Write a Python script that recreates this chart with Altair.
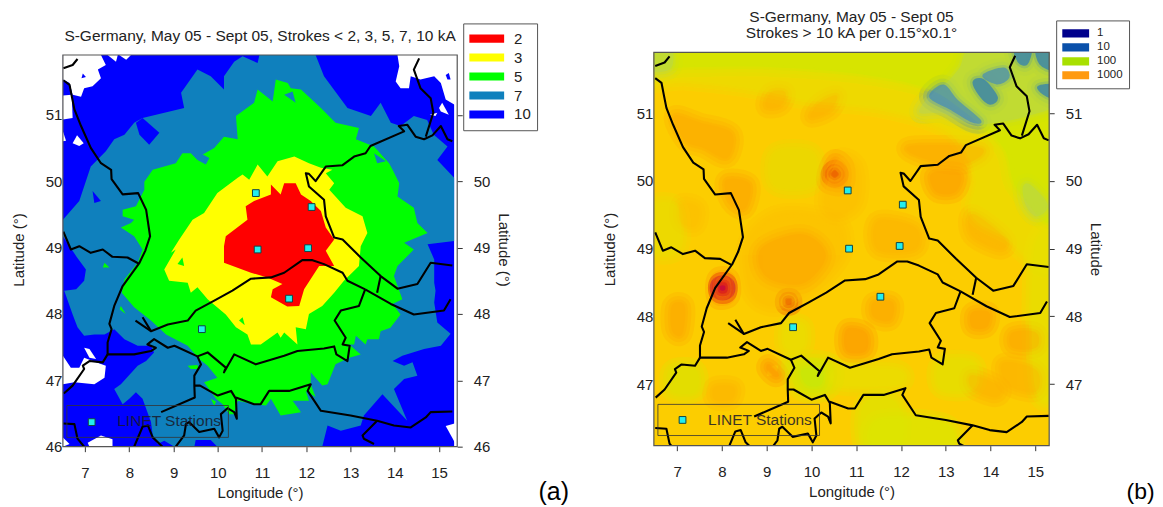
import altair as alt
import pandas as pd

FONT = "Liberation Sans"
INK = "#222222"

# ---------- categories ----------
levels_a = ["2", "3", "5", "7", "10"]
colors_a = ["#ff0000", "#ffff00", "#00ff00", "#0f80bd", "#0000ff"]
levels_b = ["1", "10", "100", "1000"]
colors_b = ["#00008c", "#0a50aa", "#a8e000", "#ff9a10"]

lat_ticks = [46, 47, 48, 49, 50, 51]
lat_ticks_b = [47, 48, 49, 50, 51]
lon_ticks = [7, 8, 9, 10, 11, 12, 13, 14, 15]

# ---------- stations ----------
stations_a = [(10.86, 49.82), (10.90, 48.97), (12.12, 49.61), (12.04, 48.99), (11.61, 48.23), (9.64, 47.77), (7.15, 46.37)]
stations_b = [(10.81, 49.86), (10.84, 49.00), (12.04, 49.65), (11.97, 49.04), (11.54, 48.29), (9.59, 47.84), (7.12, 46.47)]

# ---------- national borders (lon, lat) ----------
borders = [
    [(6.51, 51.70), (6.72, 51.75), (6.83, 51.84)],
    [(6.51, 51.52), (6.65, 51.45), (6.70, 51.28), (6.76, 51.08), (6.91, 50.83), (7.13, 50.50), (7.36, 50.27), (7.59, 50.17), (7.60, 50.03), (7.85, 49.80), (8.20, 49.82), (8.38, 49.57), (8.47, 49.17), (8.36, 48.95), (8.23, 48.77), (7.85, 48.42), (7.66, 48.12), (7.55, 47.85), (7.60, 47.77), (7.51, 47.57), (7.51, 47.39),
     (8.11, 47.39), (8.49, 47.44), (8.60, 47.49), (8.41, 47.54), (8.56, 47.62), (8.87, 47.49), (9.02, 47.52), (9.54, 47.36), (9.77, 47.42), (10.18, 47.19), (10.14, 47.12), (10.37, 47.39), (10.86, 47.24), (11.50, 47.37), (11.80, 47.44), (12.40, 47.48), (12.63, 47.51), (12.68, 47.39), (12.93, 47.29), (12.98, 47.52), (12.82, 47.54), (12.89, 47.64), (12.64, 47.90), (12.78, 48.05), (13.19, 48.12), (13.33, 48.37)],
    [(13.33, 48.37), (12.93, 48.50), (12.82, 48.62), (12.40, 48.75), (12.14, 48.81), (11.91, 48.81), (11.50, 48.62), (11.20, 48.55), (10.75, 48.53), (10.33, 48.35), (9.92, 48.20), (9.50, 48.05), (9.32, 47.90), (8.87, 47.84), (8.49, 47.74), (8.30, 47.95)],
    [(8.14, 47.90), (8.49, 47.74)],
    [(13.33, 48.37), (13.91, 48.15), (14.43, 47.99), (15.11, 48.05), (15.26, 48.22)],
    [(15.30, 48.73), (14.81, 48.77), (14.51, 48.45), (14.06, 48.38), (13.68, 48.57), (13.23, 48.85), (12.82, 49.12), (12.63, 49.15), (12.44, 49.47), (12.40, 49.72), (12.06, 49.92), (11.99, 50.12), (12.06, 50.11), (12.21, 50.00), (12.44, 50.22), (12.82, 50.24), (13.08, 50.37), (13.34, 50.42), (13.45, 50.53), (14.21, 50.75), (14.09, 50.83), (14.28, 50.85), (14.47, 50.67), (14.66, 50.63), (14.85, 50.69), (15.04, 50.83), (15.19, 50.63), (15.30, 50.60)],
    [(13.68, 48.57), (13.60, 48.32)],
    [(14.55, 51.85), (14.43, 51.68), (14.58, 51.40), (14.81, 51.25), (14.87, 51.03), (14.70, 50.67)],
    [(6.51, 49.24), (6.68, 48.97), (6.87, 49.02), (7.13, 48.92), (7.40, 48.97), (7.62, 48.86), (7.96, 48.85), (8.21, 48.76)],
    [(7.51, 47.39), (7.40, 47.27), (7.10, 47.29), (6.95, 47.22), (6.98, 47.17), (6.72, 46.92), (6.52, 46.80)],
    [(9.54, 47.36), (9.62, 47.24), (9.47, 47.07), (9.47, 46.92), (9.48, 46.74), (8.72, 46.52)],
    [(9.47, 46.92), (9.60, 46.92), (10.00, 46.77), (10.30, 46.84), (10.41, 46.72), (10.43, 46.42), (10.37, 46.52), (10.22, 46.58), (10.07, 46.49), (10.11, 46.24), (10.03, 46.14), (9.92, 46.27), (9.58, 46.22), (9.35, 46.37), (9.28, 46.34), (9.24, 46.17), (9.05, 46.00)],
    [(10.41, 46.74), (10.82, 46.64), (10.97, 46.64), (11.16, 46.84), (11.61, 46.84), (12.10, 46.94), (12.03, 46.84), (12.33, 46.54), (13.00, 46.47), (13.60, 46.39), (13.98, 46.32), (14.36, 46.29), (14.70, 46.44), (14.81, 46.52), (15.30, 46.53)],
    [(13.60, 46.39), (13.27, 46.17), (13.30, 46.12), (13.53, 46.04)],
    [(8.11, 46.00), (8.30, 46.30), (8.42, 46.32), (8.53, 46.14), (8.75, 46.00)],
    [(6.51, 46.35), (6.76, 46.34), (6.83, 46.12), (6.98, 46.00)],
]

# ---------- panel (a): areas without strokes ----------
white_areas = [
    [(6.50, 51.90), (7.36, 51.90), (7.47, 51.75), (7.29, 51.68), (7.36, 51.55), (7.17, 51.43), (6.98, 51.40), (6.91, 51.27), (6.72, 51.30), (6.65, 51.48), (6.50, 51.53)],
    [(6.50, 51.29), (6.70, 51.30), (6.72, 50.95), (6.50, 50.93)],
    [(6.50, 50.75), (6.57, 50.61), (6.50, 50.60)],
    [(6.72, 50.57), (6.82, 50.69), (6.97, 50.57), (6.87, 50.53)],
    [(7.51, 51.90), (7.70, 51.80), (7.74, 51.90)],
    [(7.77, 51.90), (7.93, 51.83), (8.04, 51.90)],
    [(14.06, 51.90), (15.41, 51.90), (15.41, 51.13), (15.15, 51.23), (15.04, 51.48), (14.89, 51.58), (14.58, 51.53), (14.36, 51.58), (14.32, 51.40), (14.13, 51.40), (14.02, 51.50), (14.10, 51.73)],
    [(15.00, 51.10), (15.07, 51.18), (15.22, 51.00), (15.04, 51.05)],
    [(14.79, 51.00), (14.96, 51.03), (14.92, 50.98)],
    [(6.50, 47.37), (6.68, 47.19), (6.87, 47.19), (6.98, 47.34), (7.25, 47.27), (7.47, 47.22), (7.44, 47.04), (7.21, 46.94), (6.76, 46.97), (6.50, 46.94)],
    [(6.98, 47.49), (7.10, 47.47), (7.25, 47.32), (7.10, 47.34)],
    [(7.06, 46.06), (7.36, 46.17), (7.62, 46.11), (7.62, 46.00), (7.10, 46.00)],
    [(6.50, 46.14), (6.65, 46.04), (6.50, 46.00)],
    [(15.41, 46.00), (15.15, 46.31), (15.41, 46.36)],
]
area_7 = [(6.50, 49.42), (6.87, 49.70), (7.13, 50.22), (7.47, 50.45), (7.66, 50.63), (7.89, 50.70), (8.11, 50.88), (8.30, 50.95), (9.24, 51.10), (9.17, 51.33), (9.54, 51.68), (9.84, 51.58), (10.14, 51.38), (10.14, 51.58), (10.37, 51.80), (10.56, 51.88), (10.90, 51.78), (10.94, 51.90), (12.21, 51.90), (12.40, 51.58), (12.93, 51.10), (13.46, 50.98), (13.68, 51.18), (13.91, 50.88), (14.13, 50.83), (14.43, 50.98), (14.73, 50.92), (14.88, 50.70), (15.19, 50.52), (14.96, 50.32), (15.34, 50.05), (15.34, 49.10), (14.74, 49.05), (14.89, 48.82), (14.89, 48.47), (14.92, 48.35), (14.89, 48.17), (14.96, 47.87), (15.26, 47.70), (15.04, 47.52), (14.66, 47.47), (14.17, 47.37), (13.95, 47.29), (14.21, 47.22), (14.40, 47.27), (14.51, 47.07), (14.21, 47.02), (13.98, 46.87), (14.28, 46.39), (13.72, 46.79), (13.30, 46.47), (13.23, 46.32), (12.78, 46.24), (12.48, 46.32), (12.36, 46.00), (9.99, 46.00), (9.84, 46.10), (9.50, 46.10), (9.47, 46.00), (9.02, 46.00), (8.79, 46.09), (8.64, 46.04), (8.53, 46.17), (8.49, 46.37), (8.30, 46.72), (8.15, 46.82), (8.00, 46.72), (7.85, 46.64), (7.66, 46.87), (7.81, 46.94), (8.19, 47.22), (8.38, 47.29), (8.56, 47.42), (8.49, 47.52), (8.19, 47.52), (7.89, 47.62), (7.66, 47.77), (7.44, 47.69), (7.21, 47.69), (6.98, 47.67), (6.83, 47.80), (6.72, 47.99), (6.53, 48.35), (6.80, 48.37), (6.98, 48.50), (7.02, 48.67), (6.80, 48.87), (6.65, 49.02), (6.50, 49.17)]
islands_10 = [
    [(8.30, 50.95), (8.68, 50.73), (8.45, 50.55), (8.23, 50.70), (8.15, 50.88)],
    [(7.17, 49.85), (7.36, 49.70), (7.21, 49.67)],
    [(6.95, 51.62), (7.02, 51.57), (6.92, 51.55)],
    [(15.15, 51.60), (15.22, 51.63), (15.26, 51.53), (15.19, 51.53)],
]
area_5 = [(7.85, 49.57), (8.15, 49.62), (8.34, 49.87), (8.34, 49.99), (8.53, 50.17), (9.05, 50.27), (9.20, 50.42), (9.39, 50.42), (9.54, 50.32), (9.73, 50.25), (9.81, 50.35), (9.66, 50.40), (9.92, 50.50), (10.14, 50.67), (10.45, 50.63), (10.41, 50.98), (10.82, 51.18), (10.90, 51.38), (11.24, 51.20), (11.31, 51.53), (11.58, 51.48), (11.65, 51.40), (11.88, 51.38), (12.33, 51.10), (12.66, 50.88), (13.19, 50.80), (13.12, 50.63), (13.53, 50.52), (13.87, 50.27), (13.95, 50.17), (14.10, 49.97), (14.06, 49.77), (14.43, 49.60), (14.51, 49.37), (14.74, 49.22), (14.21, 49.07), (14.43, 48.97), (14.06, 48.72), (13.98, 48.57), (14.17, 48.22), (13.95, 48.15), (14.13, 47.99), (13.90, 47.79), (13.68, 47.74), (13.64, 47.62), (13.38, 47.62), (13.34, 47.54), (13.12, 47.67), (13.08, 47.54), (12.97, 47.54), (13.23, 47.39), (12.97, 47.34), (12.66, 47.24), (12.48, 46.94), (12.36, 46.92), (12.10, 47.12), (12.10, 46.94), (12.21, 46.75), (11.99, 46.84), (12.06, 46.69), (11.69, 46.69), (11.88, 46.52), (11.42, 46.47), (11.20, 46.72), (11.09, 46.62), (10.82, 46.64), (10.45, 46.69), (10.37, 46.49), (10.26, 46.49), (10.11, 46.64), (9.96, 46.72), (9.69, 46.97), (9.99, 47.04), (9.77, 47.22), (9.58, 47.32), (9.32, 47.52), (8.83, 47.69), (8.49, 47.90), (8.11, 48.10), (7.83, 48.32), (7.89, 48.52), (8.19, 48.77), (8.30, 48.97), (8.11, 49.17), (7.81, 49.30), (8.04, 49.37), (8.11, 49.42), (7.85, 49.47)]
islands_7 = [
    [(13.53, 50.42), (13.80, 50.30), (13.60, 50.27)],
    [(11.50, 51.30), (11.76, 51.18), (11.69, 51.35)],
]
islands_5 = [
    [(7.44, 48.77), (7.55, 48.70), (7.40, 48.70)],
    [(7.81, 48.12), (7.92, 48.00), (7.78, 48.07)],
    [(9.32, 47.22), (9.54, 47.23), (9.58, 47.17), (9.39, 47.17)],
    [(9.84, 46.72), (9.96, 46.68), (9.92, 46.62)],
]
area_3 = [(9.99, 49.82), (10.45, 50.05), (10.56, 50.10), (10.71, 50.02), (10.90, 50.25), (11.12, 50.07), (11.35, 50.30), (11.73, 50.37), (12.06, 50.27), (12.33, 50.20), (12.59, 50.17), (12.44, 50.12), (12.63, 49.97), (12.52, 49.87), (12.89, 49.60), (13.27, 49.47), (13.38, 49.22), (13.23, 49.02), (13.19, 48.72), (12.85, 48.50), (12.63, 48.32), (12.36, 48.12), (12.06, 48.00), (11.99, 47.77), (11.76, 47.80), (11.80, 47.54), (11.50, 47.72), (11.42, 47.64), (11.35, 47.72), (10.97, 47.54), (10.75, 47.54), (10.67, 47.69), (10.41, 47.80), (10.18, 47.99), (9.77, 48.22), (9.54, 48.40), (9.39, 48.32), (9.32, 48.47), (8.90, 48.50), (8.79, 48.67), (9.05, 48.97), (8.94, 48.92), (9.13, 49.12), (9.43, 49.42), (9.69, 49.52)]
islands_5b = [
    [(9.09, 48.75), (9.20, 48.85), (9.24, 48.72)],
    [(10.48, 47.90), (10.56, 47.95), (10.61, 47.83)],
]
area_2 = [(10.14, 49.02), (10.18, 49.17), (10.67, 49.42), (10.63, 49.62), (10.82, 49.70), (11.20, 49.80), (11.20, 49.95), (11.42, 49.80), (11.50, 49.97), (11.76, 49.97), (11.88, 49.80), (12.10, 49.70), (12.33, 49.55), (12.44, 49.30), (12.63, 49.12), (12.44, 48.95), (12.63, 48.72), (12.29, 48.72), (11.95, 48.37), (11.84, 48.12), (11.57, 48.11), (11.20, 48.25), (11.24, 48.37), (11.46, 48.45), (11.12, 48.55), (10.75, 48.62), (10.14, 48.77)]

contours_a = [("7", area_7)] + [("10", p) for p in islands_10] + [("5", area_5)] + [("7", p) for p in islands_7] + [("5", p) for p in islands_5] + [("3", area_3)] + [("5", p) for p in islands_5b] + [("2", area_2)]

# ---------- panel (b): smooth density areas, painted in this order ----------
blobs_b = [
    ("#ecdf00", [(6.3, 52.1), (15.5, 52.1), (15.5, 48.9), (14.3, 49.2), (13.6, 49.5), (13.7, 50.0), (13.5, 50.4), (13.0, 50.8), (11.5, 51.1), (10.0, 51.2), (8.5, 51.4), (7.2, 51.5), (6.3, 51.5)]),
    ("#c8ea00", [(6.3, 52.1), (15.5, 52.1), (15.5, 49.5), (14.6, 49.9), (14.3, 50.5), (13.3, 51.1), (12.5, 51.4), (11.0, 51.6), (9.0, 51.7), (7.5, 51.7), (6.3, 51.7)]),
    ("#a9cf72", [(12.43, 51.02), (12.65, 51.24), (13.03, 51.44), (13.32, 51.66), (13.70, 52.0), (15.5, 52.0), (15.5, 51.21), (14.81, 50.97), (13.77, 50.85), (13.32, 50.92), (12.88, 51.02)]),
    ("#a9d070", [(14.74, 49.90), (14.89, 49.93), (15.26, 49.64), (15.03, 49.49), (14.81, 49.64)]),
    ("#a9d070", [(6.4, 52.0), (6.83, 52.0), (6.85, 51.68), (6.4, 51.65)]),
    ("#2f7fd0", [(12.65, 51.24), (12.95, 51.41), (13.25, 51.19), (13.77, 50.89), (13.55, 50.89), (13.10, 51.07)]),
    ("#0f6ad2", [(13.62, 51.46), (13.84, 51.49), (14.14, 51.24), (13.99, 51.14), (13.77, 51.26)]),
    ("#2f7fd0", [(13.84, 51.56), (14.29, 51.66), (14.40, 51.53), (14.14, 51.44)]),
    ("#0f6ad2", [(14.55, 51.95), (14.89, 51.95), (14.81, 51.73), (14.63, 51.76)]),
    ("#0f6ad2", [(15.04, 51.95), (15.40, 51.95), (15.40, 51.66), (15.11, 51.73)]),
    ("#0f6ad2", [(15.07, 51.39), (15.40, 51.41), (15.40, 51.24), (15.18, 51.29)]),
    ("#dde400", [(9.5, 47.3), (10.4, 47.3), (10.4, 46.95), (9.8, 46.9)]),
    ("#bdeb10", [(9.8, 47.2), (10.2, 47.2), (10.2, 47.0), (9.9, 47.0)]),
    ("#dde400", [(6.9, 47.2), (7.4, 47.2), (7.4, 46.9), (6.9, 46.9)]),
    ("#e8e000", [(10.6, 47.2), (11.9, 47.2), (11.9, 47.0), (10.6, 47.0)]),
    ("#dbe600", [(11.5, 46.45), (13.0, 46.4), (13.0, 46.0), (11.5, 46.0)]),
    ("#e4e200", [(12.9, 47.3), (13.6, 47.3), (13.6, 46.95), (12.9, 46.95)]),
    ("#dde400", [(11.2, 46.7), (11.9, 46.7), (11.9, 46.1), (11.2, 46.1)]),
    ("#e8dc00", [(6.4, 49.6), (7.0, 49.6), (7.0, 49.0), (6.4, 49.0)]),
    ("#e8dc00", [(9.2, 50.4), (10.0, 50.4), (10.0, 49.95), (9.2, 49.95)]),
    ("#e4e000", [(15.0, 49.0), (15.5, 49.0), (15.5, 47.0), (15.0, 47.0)]),
    ("#e8e000", [(9.45, 47.85), (9.8, 47.85), (9.8, 47.55), (9.45, 47.55)]),
    ("#ffbe00", [(8.6, 48.5), (8.6, 49.1), (9.3, 49.5), (10.5, 49.4), (10.7, 49.0), (10.3, 48.6), (9.5, 48.2), (8.9, 48.2)]),
    ("#ffa000", [(9.0, 48.6), (8.9, 49.0), (9.8, 49.2), (10.3, 48.9), (9.8, 48.5)]),
    ("#ffbe00", [(10.3, 49.7), (10.6, 50.3), (11.0, 50.2), (11.0, 49.7), (10.6, 49.5)]),
    ("#ff8c00", [(10.35, 50.0), (10.5, 50.3), (10.72, 50.2), (10.7, 49.95)]),
    ("#e03000", [(10.45, 50.10), (10.52, 50.15), (10.59, 50.10), (10.52, 50.06)]),
    ("#ffa800", [(6.95, 50.95), (7.5, 50.85), (8.2, 50.7), (8.1, 50.35), (7.6, 50.5), (7.2, 50.6)]),
    ("#ffa400", [(8.1, 50.0), (8.6, 49.95), (8.5, 49.6), (8.2, 49.7)]),
    ("#ffbe00", [(7.1, 49.65), (7.45, 49.6), (7.4, 49.35), (7.1, 49.4)]),
    ("#ffb000", [(10.0, 50.95), (10.2, 51.15), (10.55, 51.25), (10.4, 51.05)]),
    ("#ffb000", [(9.0, 51.1), (9.1, 51.3), (9.4, 51.3), (9.3, 51.12)]),
    ("#ffa800", [(12.2, 50.5), (13.6, 50.5), (13.8, 50.4), (13.3, 50.25), (12.5, 50.35)]),
    ("#ff9c00", [(12.7, 50.1), (13.3, 50.1), (13.2, 49.85), (12.8, 49.85)]),
    ("#ffb000", [(11.5, 49.4), (12.3, 49.3), (12.3, 49.0), (11.5, 49.0)]),
    ("#ffb000", [(13.6, 49.5), (14.3, 49.15), (14.2, 49.0), (13.6, 49.2)]),
    ("#ff9400", [(10.8, 47.8), (11.2, 47.75), (11.2, 47.5), (10.8, 47.5)]),
    ("#ffa400", [(11.4, 48.2), (11.8, 48.2), (11.75, 47.95), (11.4, 48.0)]),
    ("#ffa400", [(6.9, 48.15), (7.15, 48.15), (7.1, 47.75), (6.9, 47.8)]),
    ("#ffb400", [(7.85, 46.95), (8.25, 46.95), (8.2, 46.78), (7.85, 46.78)]),
    ("#ff9c00", [(13.6, 48.05), (13.95, 48.05), (13.9, 47.85), (13.6, 47.85)]),
    ("#ffa400", [(14.5, 47.75), (15.0, 47.75), (15.0, 47.55), (14.5, 47.55)]),
    ("#ffb000", [(14.3, 47.3), (15.0, 47.2), (15.0, 46.9), (14.4, 47.0)]),
    ("#ffb000", [(13.6, 47.12), (14.2, 46.95), (14.1, 46.82), (13.6, 46.95)]),
    ("#ff8c00", [(7.9, 48.55), (8.15, 48.55), (8.16, 48.30), (7.9, 48.28)]),
    ("#e01010", [(7.95, 48.48), (8.09, 48.48), (8.09, 48.36), (7.95, 48.36)]),
    ("#c0004a", [(7.98, 48.44), (8.05, 48.44), (8.05, 48.40), (7.98, 48.40)]),
    ("#e84800", [(9.44, 48.25), (9.54, 48.25), (9.54, 48.18), (9.44, 48.18)]),
    ("#ff9000", [(9.05, 47.28), (9.25, 47.15), (9.18, 47.12), (9.02, 47.22)]),
]


def paint_strength(color):
    if color in ("#2f7fd0", "#0f6ad2"):
        return 0.55
    if color == "#c0004a":
        return 0.6
    if color == "#e01010":
        return 0.4
    if color in ("#e03000", "#e84800"):
        return 0.3
    if color.startswith("#ff"):
        return 0.24
    return 0.3


def polys_frame(items):
    rows = []
    for i, (level, pts) in enumerate(items):
        for j, (lon, lat) in enumerate(pts):
            rows.append({"id": i, "seq": j, "level": level, "lon": lon, "lat": lat,
                         "op": paint_strength(level)})
    return pd.DataFrame(rows)


def lines_frame(items):
    rows = []
    for i, pts in enumerate(items):
        for j, (lon, lat) in enumerate(pts):
            rows.append({"id": i, "seq": j, "lon": lon, "lat": lat})
    return pd.DataFrame(rows)


def panel(w, h, xdom, ydom, frame_y, title, tsize, toffset, levels, colors, legend,
          right_title, stations, box, label_pos, tag_pos, ticks_left):
    xs = alt.Scale(domain=xdom, nice=False, zero=False)
    ys = alt.Scale(domain=ydom, nice=False, zero=False)
    X = alt.X("lon:Q", scale=xs, title=None, axis=None)
    Y = alt.Y("lat:Q", scale=ys, title=None, axis=None)
    colorscale = alt.Scale(domain=levels, range=colors)

    layers = []
    lines = lines_frame(borders)
    st = pd.DataFrame(stations, columns=["lon", "lat"])

    if levels is levels_a:
        base = pd.DataFrame({"lon": [xdom[0]], "lon2": [15.34], "lat": [frame_y[0]], "lat2": [frame_y[1]], "level": ["10"]})
        layers.append(alt.Chart(base).mark_rect().encode(
            x=X, x2="lon2:Q", y=Y, y2="lat2:Q",
            fill=alt.Fill("level:N", scale=colorscale, legend=legend)))
        layers.append(alt.Chart(lines_frame(white_areas)).mark_line(
            interpolate="linear-closed", strokeWidth=0, fill="white").encode(
            x=X, y=Y, detail="id:N", order="seq:Q"))
        layers.append(alt.Chart(polys_frame(contours_a)).mark_line(
            interpolate="linear-closed", strokeWidth=0, clip=True).encode(
            x=X, y=Y, detail="id:N", order="seq:Q",
            fill=alt.Fill("level:N", scale=colorscale, legend=legend)))
    else:
        base = pd.DataFrame({"lon": [xdom[0]], "lon2": [xdom[1]], "lat": [frame_y[0]], "lat2": [frame_y[1]]})
        layers.append(alt.Chart(base).mark_rect(fill="#fccd00").encode(x=X, x2="lon2:Q", y=Y, y2="lat2:Q"))
        # feathered paint: wide translucent strokes give the soft density edges
        for sw in (22, 14, 7, 2):
            layers.append(alt.Chart(polys_frame(blobs_b)).mark_line(
                interpolate="cardinal-closed", strokeWidth=sw, clip=True, strokeJoin="round").encode(
                x=X, y=Y, detail="id:N", order="seq:Q",
                fill=alt.Fill("level:N", scale=None),
                stroke=alt.Stroke("level:N", scale=None),
                opacity=alt.Opacity("op:Q", scale=None)))
        keys = pd.DataFrame({"level": levels, "lon": [xdom[0]] * len(levels), "lat": [frame_y[0]] * len(levels)})
        layers.append(alt.Chart(keys).mark_square(size=0, opacity=1).encode(
            x=X, y=Y, color=alt.Color("level:N", scale=colorscale, legend=legend)))

    layers.append(alt.Chart(lines).mark_line(color="black", strokeWidth=2.1, clip=True,
                                             strokeJoin="round").encode(x=X, y=Y, detail="id:N", order="seq:Q"))
    layers.append(alt.Chart(st).mark_square(size=46, fill="#22eeee", stroke="#114444", strokeWidth=1, opacity=1).encode(x=X, y=Y))
    bx = pd.DataFrame([box], columns=["lon", "lon2", "lat", "lat2"])
    layers.append(alt.Chart(bx).mark_rect(fillOpacity=0, stroke="#333333", strokeWidth=0.8).encode(
        x=X, x2="lon2:Q", y=Y, y2="lat2:Q"))
    lab = pd.DataFrame({"lon": [label_pos[0]], "lat": [label_pos[1]], "t": ["LINET Stations"]})
    layers.append(alt.Chart(lab).mark_text(font=FONT, fontSize=15.5, color="#1a1a2a", opacity=0.85).encode(x=X, y=Y, text="t:N"))
    tag = pd.DataFrame({"lon": [tag_pos[0]], "lat": [tag_pos[1]], "t": [tag_pos[2]]})
    layers.append(alt.Chart(tag).mark_text(font=FONT, fontSize=tag_pos[3], color="black").encode(x=X, y=Y, text="t:N"))

    # frame + axes
    fr = pd.DataFrame({"lon": [xdom[0]], "lon2": [xdom[1]], "lat": [frame_y[0]], "lat2": [frame_y[1]]})
    axis_common = dict(labelFont=FONT, titleFont=FONT, labelFontSize=15, titleFontSize=15,
                       labelColor=INK, titleColor=INK, titleFontWeight="normal", grid=False, domain=False,
                       tickColor="#333333", tickWidth=1)
    layers.append(alt.Chart(fr).mark_rect(fillOpacity=0, stroke="#555555", strokeWidth=1.2).encode(
        x=alt.X("lon:Q", scale=xs, axis=alt.Axis(values=lon_ticks, title="Longitude (°)", tickSize=5,
                                                 labelPadding=14, titlePadding=5, labelFlush=False, **axis_common)),
        x2="lon2:Q",
        y=alt.Y("lat:Q", scale=ys, axis=alt.Axis(orient="left", values=ticks_left, title="Latitude (°)", tickSize=0,
                                                 labelPadding=1, titlePadding=19, labelFlush=False, **axis_common)),
        y2="lat2:Q"))
    layers.append(alt.Chart(fr).mark_rule(opacity=0).encode(
        x=X,
        y=alt.Y("lat:Q", scale=ys, axis=alt.Axis(orient="right", values=ticks_left, title=right_title, tickSize=5,
                                                 labelPadding=11, titlePadding=5.5, labelFlush=False, **axis_common))))

    return alt.layer(*layers).resolve_scale(y="independent", x="independent").properties(
        width=w, height=h,
        view=alt.ViewConfig(stroke=None),
        title=alt.TitleParams(text=title, font=FONT, fontSize=tsize, fontWeight="normal", color=INK,
                              anchor="middle", offset=toffset, lineHeight=16))


def sym(h):
    return "M-1,-%sH1V%sH-1Z" % (h, h)


legend_a = alt.Legend(orient="none", legendX=401, legendY=-29, title=None, strokeColor="#555555", fillColor="white", padding=6,
                      symbolType=sym(0.23), symbolSize=1225, symbolStrokeWidth=0, clipHeight=18.5, rowPadding=0,
                      labelFont=FONT, labelFontSize=15, labelColor=INK, labelOffset=10, symbolOpacity=1)
legend_b = alt.Legend(orient="none", legendX=403, legendY=-32, title=None, strokeColor="#555555", fillColor="white", padding=6,
                      symbolType=sym(0.3), symbolSize=729, symbolStrokeWidth=0, clipHeight=14, rowPadding=0,
                      labelFont=FONT, labelFontSize=11.5, labelColor=INK, labelOffset=8, symbolOpacity=1)

a = panel(395, 395, [6.5, 15.41], [46.0, 51.94], [46.0, 51.9],
          "S-Germany, May 05 - Sept 05, Strokes < 2, 3, 5, 7, 10 kA", 15.5, -21.5,
          levels_a, colors_a, legend_a, "Latitude (°)", stations_a,
          (6.59, 10.24, 46.14, 46.62), (8.9, 46.38), (17.59, 45.32, "(a)", 25), lat_ticks)
b = panel(396, 394, [6.48, 15.31], [46.09, 51.9], [46.09, 51.9],
          ["S-Germany, May 05 - Sept 05", "Strokes > 10 kA per 0.15°x0.1°"], 15.5, -22,
          levels_b, colors_b, legend_b, "Latitude", stations_b,
          (6.57, 10.18, 46.24, 46.70), (8.85, 46.47), (17.35, 45.41, "(b)", 23), lat_ticks_b)

chart = alt.hconcat(a, b, spacing=197, bounds="flush").resolve_scale(fill="independent", color="independent", x="independent", y="independent").configure_view(stroke=None).properties(
    padding={"left": 3, "right": 0, "top": 2, "bottom": 0})
chart.save("out.html", embed_options={"renderer": "svg", "actions": False})
